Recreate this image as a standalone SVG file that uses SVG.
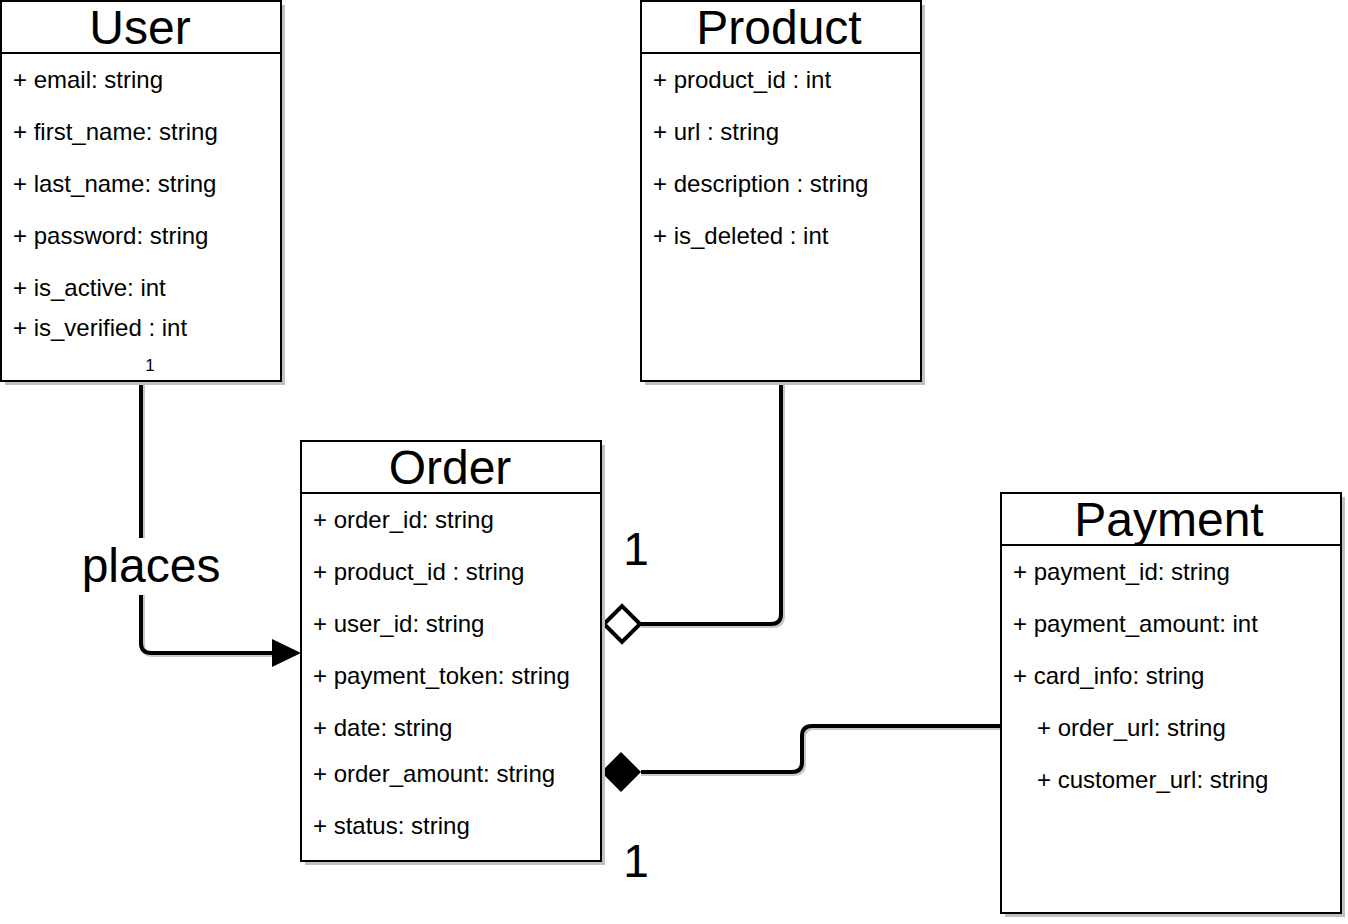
<svg xmlns="http://www.w3.org/2000/svg" width="1348" height="924" viewBox="0 0 1348 924">
<style>
.sh{fill:#c0c0c0;stroke:none}
.box{fill:#fff;stroke:#000;stroke-width:2}
.sep{stroke:#000;stroke-width:2}
.title{font-family:"Liberation Sans",Arial,sans-serif;font-size:48px;text-anchor:middle;fill:#000}
.attr{font-family:"Liberation Sans",Arial,sans-serif;font-size:24px;fill:#000}
.lbl{font-family:"Liberation Sans",Arial,sans-serif;fill:#000}
.edge{fill:none;stroke:#000;stroke-width:4}
.edgesh{fill:none;stroke:#c8c8c8;stroke-width:4}
</style>
<rect width="1348" height="924" fill="#fff"/>
<g id="connectors">
  <g id="edge-user-order">
    <path class="edgesh" d="M143 383 V645 Q143 655 153 655 H277"/>
    <path class="edge" d="M141 381 V643 Q141 653 151 653 H277"/>
    <polygon points="301,653 272,639 272,667" fill="#000"/>
    <rect x="78" y="538" width="146" height="57" fill="#fff"/>
    <text class="lbl" x="151" y="582" font-size="48" text-anchor="middle">places</text>
  </g>
  <g id="edge-product-order">
    <path class="edgesh" d="M783 383 V616 Q783 626 773 626 H641"/>
    <path class="edge" d="M781 381 V614 Q781 624 771 624 H641"/>
    <polygon points="604,624 622,606 640,624 622,642" fill="#fff" stroke="#000" stroke-width="4"/>
    <text class="lbl" x="636" y="565" font-size="46" text-anchor="middle">1</text>
  </g>
  <g id="edge-payment-order">
    <path class="edgesh" d="M1001 728 H814 Q804 728 804 738 V764 Q804 774 794 774 H641"/>
    <path class="edge" d="M1001 726 H812 Q802 726 802 736 V762 Q802 772 792 772 H641"/>
    <polygon points="601,772 621,752 641,772 621,792" fill="#000"/>
    <text class="lbl" x="636" y="877" font-size="46" text-anchor="middle">1</text>
  </g>
</g>
<g id="node-user">
  <rect class="sh" x="5" y="5" width="280" height="380"/>
  <rect class="box" x="1" y="1" width="280" height="380"/>
  <line class="sep" x1="1" y1="53" x2="281" y2="53"/>
  <text class="title" x="140" y="44">User</text>
  <text class="attr" x="13" y="88">+ email: string</text>
  <text class="attr" x="13" y="140">+ first_name: string</text>
  <text class="attr" x="13" y="192">+ last_name: string</text>
  <text class="attr" x="13" y="244">+ password: string</text>
  <text class="attr" x="13" y="296">+ is_active: int</text>
  <text class="attr" x="13" y="336">+ is_verified : int</text>
  <text class="lbl" x="150" y="371" font-size="17" text-anchor="middle">1</text>
</g>
<g id="node-product">
  <rect class="sh" x="645" y="5" width="280" height="380"/>
  <rect class="box" x="641" y="1" width="280" height="380"/>
  <line class="sep" x1="641" y1="53" x2="921" y2="53"/>
  <text class="title" x="779" y="44">Product</text>
  <text class="attr" x="653" y="88">+ product_id : int</text>
  <text class="attr" x="653" y="140">+ url : string</text>
  <text class="attr" x="653" y="192">+ description : string</text>
  <text class="attr" x="653" y="244">+ is_deleted : int</text>
</g>
<g id="node-order">
  <rect class="sh" x="305" y="445" width="300" height="420"/>
  <rect class="box" x="301" y="441" width="300" height="420"/>
  <line class="sep" x1="301" y1="493" x2="601" y2="493"/>
  <text class="title" x="450" y="484">Order</text>
  <text class="attr" x="313" y="528">+ order_id: string</text>
  <text class="attr" x="313" y="580">+ product_id : string</text>
  <text class="attr" x="313" y="632">+ user_id: string</text>
  <text class="attr" x="313" y="684">+ payment_token: string</text>
  <text class="attr" x="313" y="736">+ date: string</text>
  <text class="attr" x="313" y="782">+ order_amount: string</text>
  <text class="attr" x="313" y="834">+ status: string</text>
</g>
<g id="node-payment">
  <rect class="sh" x="1005" y="497" width="340" height="420"/>
  <rect class="box" x="1001" y="493" width="340" height="420"/>
  <line class="sep" x1="1001" y1="545" x2="1341" y2="545"/>
  <text class="title" x="1169" y="536">Payment</text>
  <text class="attr" x="1013" y="580">+ payment_id: string</text>
  <text class="attr" x="1013" y="632">+ payment_amount: int</text>
  <text class="attr" x="1013" y="684">+ card_info: string</text>
  <text class="attr" x="1037" y="736">+ order_url: string</text>
  <text class="attr" x="1037" y="788">+ customer_url: string</text>
</g>
</svg>
